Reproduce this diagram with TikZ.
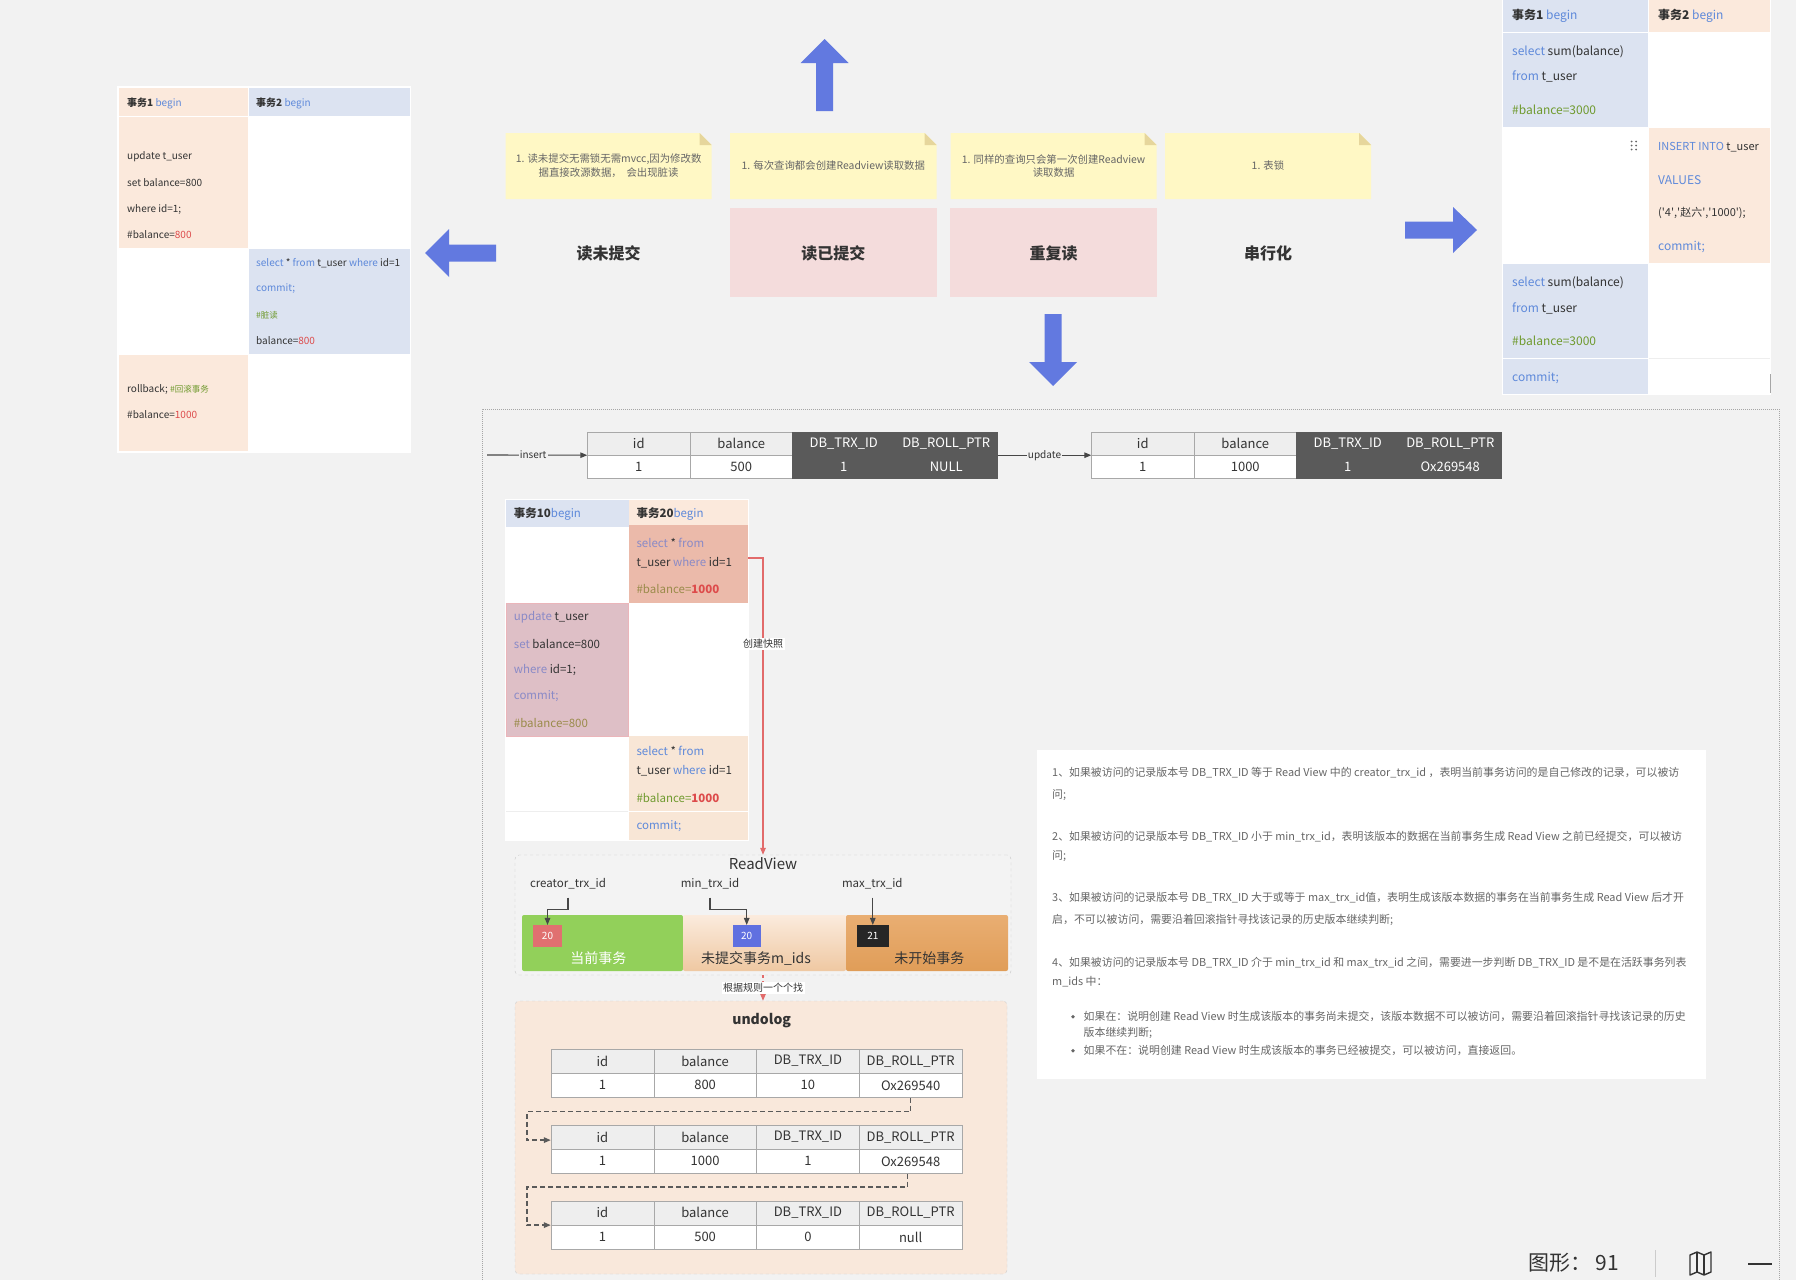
\documentclass[tikz,border=0pt]{standalone}
\usepackage{fontspec}
\setmainfont{Noto Sans CJK SC}
\usetikzlibrary{arrows.meta,calc}
\newcommand{\fsz}[1]{\fontsize{#1}{#1}\selectfont}
\newcommand{\sq}{\textquotesingle}
\definecolor{bgc}{HTML}{F2F2F2}
\definecolor{peach}{HTML}{FBE9DC}
\definecolor{lblue}{HTML}{DCE3F1}
\definecolor{kw}{HTML}{5E89DA}
\definecolor{nred}{HTML}{DD4B4B}
\definecolor{cgreen}{HTML}{6F9A2E}
\definecolor{noteY}{HTML}{FFF8C5}
\definecolor{noteF}{HTML}{E6D69C}
\definecolor{pinkb}{HTML}{F4DCDC}
\definecolor{ablue}{HTML}{6279E0}
\definecolor{darkc}{HTML}{5A5A5A}
\definecolor{hgray}{HTML}{EEEEEE}
\definecolor{bord}{HTML}{A8A8A8}
\definecolor{salmon}{HTML}{EBBAAA}
\definecolor{mauve}{HTML}{DEBFC6}
\definecolor{mauveb}{HTML}{EBB5BA}
\definecolor{peachb}{HTML}{F8E6D6}
\definecolor{kwp}{HTML}{8A8AC6}
\definecolor{olive}{HTML}{9A8B4A}
\definecolor{redl}{HTML}{E26B6B}
\definecolor{txt}{HTML}{333333}
\definecolor{gtxt}{HTML}{666666}
\definecolor{greenseg}{HTML}{92D05A}
\definecolor{boxred}{HTML}{E07070}
\definecolor{boxblue}{HTML}{6070E0}
\definecolor{rvfill}{HTML}{F3F3F3}
\definecolor{pchtop}{HTML}{FBEBDD}
\definecolor{pchbot}{HTML}{EFC8A2}
\definecolor{orgtop}{HTML}{E9AE72}
\definecolor{orgbot}{HTML}{E09D58}
\definecolor{ulfill}{HTML}{F9E8DB}
\tikzset{
  tx/.style={anchor=west, inner sep=0pt, text=txt},
  tl/.style={tx, font=\fsz{10}},
  tr/.style={tx, font=\fsz{12}},
  tt/.style={tx, font=\fsz{11.5}},
  bt/.style={tx, font=\fsz{10.9}, text=gtxt},
  cellbox/.style={anchor=north west, inner sep=0pt, outer sep=0pt},
  lth/.style={draw=bord, fill=hgray, minimum width=\cw pt, minimum height=\rh pt, inner sep=0pt, font=\fsz{13}, text=txt},
  ltd/.style={draw=bord, fill=white, minimum width=\cw pt, minimum height=\rh pt, inner sep=0pt, font=\fsz{13}, text=txt},
  dkh/.style={draw=darkc, fill=darkc, minimum width=\cw pt, minimum height=\rh pt, inner sep=0pt, font=\fsz{13}, text=white},
  dkd/.style={draw=darkc, fill=darkc, minimum width=\cw pt, minimum height=\rh pt, inner sep=0pt, font=\fsz{13}, text=white},
  notetext/.style={align=center, font=\fsz{10.4}, text=gtxt, inner sep=0pt},
  lvl/.style={font=\fsz{16}\bfseries, text=txt},
  pinkbox/.style={fill=pinkb, minimum width=206.6pt, minimum height=89.3pt, inner sep=0pt},
  garr/.style={draw=txt!90, line width=1.1pt, -{Triangle[length=7pt,width=5.5pt]}},
  redc/.style={draw=redl, line width=1.2pt, -{Triangle[length=7pt,width=5.5pt]}},
  udash/.style={draw=darkc, line width=1.4pt, dash pattern=on 5pt off 3pt, -{Triangle[length=7pt,width=5.5pt]}},
  smallbox/.style={minimum height=21.7pt, inner sep=0pt, font=\fsz{10}, text=white},
  seg/.style={minimum height=56pt, inner sep=0pt, rounded corners=2pt},
}
\newcommand{\mytab}[8]{%
  \node[lth] (#1a) at ({#2+0.5*\cw},{#3+0.5*\rh}) {id};
  \node[lth] (#1b) at ({#2+1.5*\cw},{#3+0.5*\rh}) {balance};
  \node[#4h] (#1c) at ({#2+2.5*\cw},{#3+0.5*\rh}) {DB\_TRX\_ID};
  \node[#4h] (#1d) at ({#2+3.5*\cw},{#3+0.5*\rh}) {DB\_ROLL\_PTR};
  \node[ltd] (#1e) at ({#2+0.5*\cw},{#3+1.5*\rh}) {#5};
  \node[ltd] (#1f) at ({#2+1.5*\cw},{#3+1.5*\rh}) {#6};
  \node[#4d] (#1g) at ({#2+2.5*\cw},{#3+1.5*\rh}) {#7};
  \node[#4d] (#1h) at ({#2+3.5*\cw},{#3+1.5*\rh}) {#8};
}
\newcommand{\stickynote}[4]{%
  \fill[noteY] (#1,#2) -- (#3-12,#2) -- (#3,#2+12) -- (#3,#4) -- (#1,#4) -- cycle;
  \fill[noteF] (#3-12,#2) -- (#3,#2+12) -- (#3-12,#2+12) -- cycle;
}
\begin{document}
\begin{tikzpicture}[x=1pt,y=-1pt]
\useasboundingbox (0,0) rectangle (1796,1280);
\fill[bgc] (0,0) rectangle (1796,1280);

% ---------- top-left table ----------
\fill[white] (117,86) rectangle (411,453);
\fill[peach] (119,88) rectangle (248,116);
\fill[lblue] (249,88) rectangle (410,116);
\fill[peach] (119,117) rectangle (248,248);
\fill[lblue] (249,249) rectangle (410,354);
\fill[peach] (119,355) rectangle (248,451);
\node[tl] (a1) at (127,103) {\textbf{事务1} \textcolor{kw}{begin}};
\node[tl] (a2) at (256,103) {\textbf{事务2} \textcolor{kw}{begin}};
\node[tl] (a3) at (127,157) {update t\_user};
\node[tl] (a4) at (127,183) {set balance=800};
\node[tl] (a5) at (127,209) {where id=1;};
\node[tl] (a6) at (127,235) {\#balance=\textcolor{nred}{800}};
\node[tl] (a7) at (256,263) {\textcolor{kw}{select} * \textcolor{kw}{from} t\_user \textcolor{kw}{where} id=1};
\node[tl] (a8) at (256,289) {\textcolor{kw}{commit;}};
\node[tl] (a9) at (256,315) {\fsz{8.5}\textcolor{cgreen}{\#脏读}};
\node[tl] (a10) at (256,341) {balance=\textcolor{nred}{800}};
\node[tl] (a11) at (127,389) {rollback; {\fsz{8.5}\textcolor{cgreen}{\#回滚事务}}};
\node[tl] (a12) at (127,415) {\#balance=\textcolor{nred}{1000}};

% ---------- block arrows ----------
\fill[ablue] (425,253) -- (449,229) -- (449,244.5) -- (496,244.5) -- (496,261.5) -- (449,261.5) -- (449,277) -- cycle;
\fill[ablue] (824.5,39) -- (848.5,63) -- (833,63) -- (833,111) -- (816,111) -- (816,63) -- (800.5,63) -- cycle;
\fill[ablue] (1053,386) -- (1029,362) -- (1044.5,362) -- (1044.5,314) -- (1061.5,314) -- (1061.5,362) -- (1077,362) -- cycle;
\fill[ablue] (1477,230) -- (1453,207) -- (1453,221.5) -- (1405,221.5) -- (1405,238.5) -- (1453,238.5) -- (1453,253) -- cycle;

% ---------- notes ----------
\stickynote{505.6}{133}{711.6}{199}
\stickynote{730}{133}{936.6}{199}
\stickynote{950.6}{133}{1156.6}{199}
\stickynote{1165}{133}{1371}{199}
\node[notetext] (n1) at (608.6,166) {1. 读未提交无需锁无需mvcc,因为修改数\\[2.5pt]据直接改源数据，\ \ 会出现脏读};
\node[notetext] (n2) at (833.3,166) {1. 每次查询都会创建Readview读取数据};
\node[notetext] (n3) at (1053.6,166) {1. 同样的查询只会第一次创建Readview\\[2.5pt]读取数据};
\node[notetext] (n4) at (1268,166) {1. 表锁};

\node[lvl] (p1) at (608.6,253) {读未提交};
\node[pinkbox] (p2) at (833.3,252.7) {};
\node[pinkbox] (p3) at (1053.6,252.7) {};
\node[lvl] (p2t) at (833.3,253) {读已提交};
\node[lvl] (p3t) at (1053.6,253) {重复读};
\node[lvl] (p4) at (1268,253) {串行化};

% ---------- top-right table ----------
\fill[white] (1502,0) rectangle (1771,395);
\fill[lblue] (1503,0) rectangle (1648,32);
\fill[peach] (1649,0) rectangle (1770,32);
\fill[lblue] (1503,33) rectangle (1648,127);
\fill[peach] (1649,128) rectangle (1770,263);
\fill[lblue] (1503,264) rectangle (1648,358);
\fill[lblue] (1503,359) rectangle (1648,394);
\draw[hgray] (1649,358.5) -- (1770,358.5);
\draw[gray!70, line width=1pt] (1770.5,374) -- (1770.5,393);
\node[tr] (b1) at (1512,15.7) {\textbf{事务1} \textcolor{kw}{begin}};
\node[tr] (b2) at (1658,15.7) {\textbf{事务2} \textcolor{kw}{begin}};
\node[tr] (b3) at (1512,51.7) {\textcolor{kw}{select} sum(balance)};
\node[tr] (b4) at (1512,76.7) {\textcolor{kw}{from} t\_user};
\node[tr] (b5) at (1512,109.3) {\textcolor{cgreen}{\#balance=3000}};
\node[tr, font=\fsz{11}] (b6) at (1658,146.7) {\textcolor{kw}{INSERT INTO} t\_user};
\node[tr] (b7) at (1658,180) {\textcolor{kw}{VALUES}};
\node[tr, font=\fsz{11}] (b8) at (1658,213.3) {(\sq4\sq,\sq 赵六\sq,\sq1000\sq);};
\node[tr] (b9) at (1658,247.3) {\textcolor{kw}{commit;}};
\node[tr] (b10) at (1512,282.7) {\textcolor{kw}{select} sum(balance)};
\node[tr] (b11) at (1512,308.3) {\textcolor{kw}{from} t\_user};
\node[tr] (b12) at (1512,341) {\textcolor{cgreen}{\#balance=3000}};
\node[tr] (b13) at (1512,377.7) {\textcolor{kw}{commit;}};
\foreach \dx in {1631.5,1636}{\foreach \dy in {141.5,145.5,149.5}{\fill[gtxt] (\dx,\dy) circle (1pt);}}

% ---------- dotted frame ----------
\draw[gray!70, line width=1pt, dash pattern=on 1pt off 1pt] (482,1280) -- (482,409) -- (1779,409) -- (1779,1280);

% ---------- record tables ----------
\def\cw{102.5}\def\rh{23.3}
\mytab{ra}{587.5}{431.7}{dk}{1}{500}{1}{NULL}
\mytab{rb}{1091.5}{431.7}{dk}{1}{1000}{1}{Ox269548}
\coordinate (insS) at (487,455);
\draw[garr] (insS) -- node[pos=0.46, fill=bgc, inner sep=1pt, font=\fsz{10}, text=txt] {insert} (raa.south west);
\draw[garr] (rad.south east) -- node[fill=bgc, inner sep=1pt, font=\fsz{10}, text=txt] {update} (rba.south west);

% ---------- transaction 10/20 table ----------
\fill[white] (505,499) rectangle (749,841);
\node[cellbox, fill=lblue, minimum width=122.5pt, minimum height=27pt] (h10) at (506,500) {};
\node[cellbox, fill=peach, minimum width=119pt, minimum height=25pt] (h20) at (629,500) {};
\node[cellbox, fill=salmon, minimum width=119pt, minimum height=78pt] (txA) at (629,525) {};
\node[cellbox, fill=mauve, draw=mauveb, minimum width=122.5pt, minimum height=133pt] (txB) at (506,603) {};
\node[cellbox, fill=peachb, minimum width=119pt, minimum height=75pt] (txC) at (629,736) {};
\node[cellbox, fill=peachb, minimum width=119pt, minimum height=28pt] (txD) at (629,812) {};
\draw[hgray, line width=1pt] (506,811.5) -- (628,811.5);
\node[tt] (c1) at (513.7,514.3) {\textbf{事务10}\textcolor{kw}{begin}};
\node[tt] (c2) at (636.3,514.3) {\textbf{事务20}\textcolor{kw}{begin}};
\node[tt] (c3) at (636.3,542.7) {\textcolor{kwp}{select} * \textcolor{kwp}{from}};
\node[tt] (c4) at (636.3,562.7) {t\_user \textcolor{kwp}{where} id=1};
\node[tt] (c5) at (636.3,588.7) {\textcolor{olive}{\#balance=}\textcolor{nred}{\textbf{1000}}};
\node[tt] (c6) at (513.7,617) {\textcolor{kwp}{update} t\_user};
\node[tt] (c7) at (513.7,643.7) {\textcolor{kwp}{set} balance=800};
\node[tt] (c8) at (513.7,670) {\textcolor{kwp}{where} id=1;};
\node[tt] (c9) at (513.7,696.3) {\textcolor{kwp}{commit;}};
\node[tt] (c10) at (513.7,722.7) {\textcolor{olive}{\#balance=800}};
\node[tt] (c11) at (636.3,751) {\textcolor{kw}{select} * \textcolor{kw}{from}};
\node[tt] (c12) at (636.3,771) {t\_user \textcolor{kw}{where} id=1};
\node[tt] (c13) at (636.3,797.7) {\textcolor{cgreen}{\#balance=}\textcolor{nred}{\textbf{1000}}};
\node[tt] (c14) at (636.3,826) {\textcolor{kw}{commit;}};

% ---------- ReadView ----------
\node[draw=gray!45, dashed, rounded corners=4pt, fill=rvfill, minimum width=496pt, minimum height=120pt, inner sep=0pt] (rv) at (763,915) {};
\node[font=\fsz{15}, text=txt] (rvt) at (763,864) {ReadView};
\node[font=\fsz{11.5}, text=txt, inner sep=0pt] (lc) at (568,884) {creator\_trx\_id};
\node[font=\fsz{11.5}, text=txt, inner sep=0pt] (lmn) at (710,884) {min\_trx\_id};
\node[font=\fsz{11.5}, text=txt, inner sep=0pt] (lmx) at (872.3,884) {max\_trx\_id};
\node[seg, fill=greenseg, minimum width=161pt] (sg) at (602.5,943) {};
\node[seg, top color=pchtop, bottom color=pchbot, minimum width=163pt] (sp) at (764.5,943) {};
\node[seg, top color=orgtop, bottom color=orgbot, minimum width=162pt] (so) at (927,943) {};
\node[smallbox, fill=boxred, minimum width=28.4pt] (bx1) at (547.5,936) {20};
\node[smallbox, fill=boxblue, minimum width=28pt] (bx2) at (746.7,936) {20};
\node[smallbox, fill=black!85, minimum width=32pt] (bx3) at (872.8,936) {21};
\node[font=\fsz{14}, text=white] (sgt) at (598.3,958.3) {当前事务};
\node[font=\fsz{14}, text=txt] (spt) at (756,958.3) {未提交事务m\_ids};
\node[font=\fsz{14}, text=txt] (sot) at (929.3,958.3) {未开始事务};
\draw[garr] (lc.south) ++(0,8) -- ++(0,12) -| (bx1.north);
\draw[garr] (lmn.south) ++(0,8) -- ++(0,12) -| (bx2.north);
\draw[garr] (bx3.north |- lmx.south) ++(0,8) -- (bx3.north);

% red connectors
\draw[redc] ($(txA.east)+(0,-6)$) -| node[pos=0.645, fill=white, inner sep=1.5pt, font=\fsz{10}, text=txt] {创建快照} (rv.north);

% ---------- undolog ----------
\node[draw=gray!40, dashed, rounded corners=4pt, fill=ulfill, minimum width=492pt, minimum height=273pt, inner sep=0pt] (ul) at (761,1137.5) {};
\node[font=\fsz{14}\bfseries, text=txt] (ult) at (761.7,1020.7) {undolog};
\def\cw{102.75}\def\rh{24.2}
\mytab{ua}{551}{1049}{lt}{1}{800}{10}{Ox269540}
\mytab{ub}{551}{1125}{lt}{1}{1000}{1}{Ox269548}
\mytab{uc}{551}{1200.7}{lt}{1}{500}{0}{null}
\draw[udash] (uah.south) -- ++(0,14) -| ($(uba.west)+(-24,3)$) -- ($(uba.west)+(0,3)$);
\draw[udash] ($(ubh.south)+(-3,0)$) -- ++(0,13.5) -| ($(uca.south west)+(-24,0)$) -- (uca.south west);

\draw[redc, dashed] (rv.south) -- node[fill=white, inner sep=1.5pt, font=\fsz{10}, text=txt] {根据规则一个个找} (rv.south |- ul.north);

% ---------- rules text ----------
\fill[white] (1037,750) rectangle (1706,1079);
\node[bt] (r1) at (1052,773) {1、如果被访问的记录版本号 DB\_TRX\_ID 等于 Read View 中的 creator\_trx\_id ，表明当前事务访问的是自己修改的记录，可以被访};
\node[bt] (r1b) at (1052,794.7) {问;};
\node[bt] (r2) at (1052,836.3) {2、如果被访问的记录版本号 DB\_TRX\_ID 小于 min\_trx\_id，表明该版本的数据在当前事务生成 Read View 之前已经提交，可以被访};
\node[bt] (r2b) at (1052,856.3) {问;};
\node[bt] (r3) at (1052,898) {3、如果被访问的记录版本号 DB\_TRX\_ID 大于或等于 max\_trx\_id值，表明生成该版本数据的事务在当前事务生成 Read View 后才开};
\node[bt] (r3b) at (1052,920) {启，不可以被访问，需要沿着回滚指针寻找该记录的历史版本继续判断;};
\node[bt] (r4) at (1052,962.7) {4、如果被访问的记录版本号 DB\_TRX\_ID 介于 min\_trx\_id 和 max\_trx\_id 之间，需要进一步判断 DB\_TRX\_ID 是不是在活跃事务列表};
\node[bt] (r4b) at (1052,981.7) {m\_ids 中：};
\fill[gtxt] (1073,1016.7) circle (1.8pt);
\fill[gtxt] (1073,1050.7) circle (1.8pt);
\node[bt] (r5) at (1083.5,1016.7) {如果在：说明创建 Read View 时生成该版本的事务尚未提交，该版本数据不可以被访问，需要沿着回滚指针寻找该记录的历史};
\node[bt] (r5b) at (1083.5,1032.7) {版本继续判断;};
\node[bt] (r6) at (1083.5,1050.7) {如果不在：说明创建 Read View 时生成该版本的事务已经被提交，可以被访问，直接返回。};

% ---------- status bar ----------
\node[tx, font=\fsz{21}] (st) at (1528,1263) {图形： 91};
\draw[gray!40, line width=1pt] (1655,1250) -- (1655,1277);
\draw[txt, line width=1.4pt, line join=round] (1690,1255) -- (1697,1252) -- (1704,1255) -- (1711,1252) -- (1711,1272) -- (1704,1275) -- (1697,1272) -- (1690,1275) -- cycle;
\draw[txt, line width=1.4pt] (1697,1252) -- (1697,1272) (1704,1255) -- (1704,1275);
\draw[txt, line width=2pt] (1748,1264) -- (1772,1264);
\end{tikzpicture}
\end{document}
